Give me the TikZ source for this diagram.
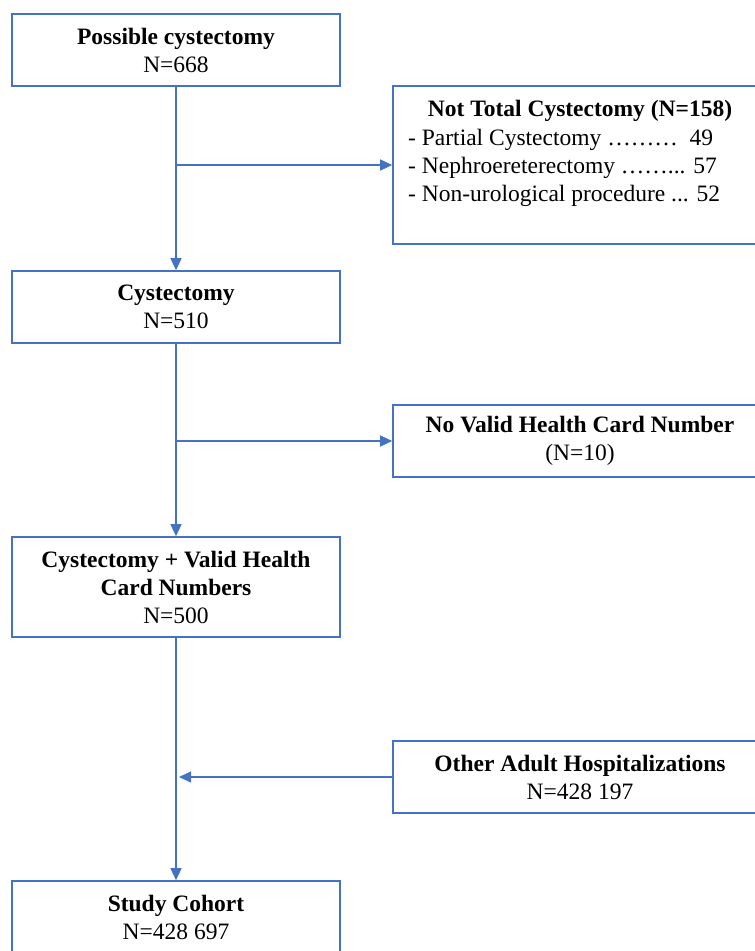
\documentclass[tikz,border=0pt]{standalone}
\usepackage{fontspec}
\setmainfont{Liberation Serif}
\usetikzlibrary{arrows.meta}
\definecolor{bl}{HTML}{4472C4}
\begin{document}
\begin{tikzpicture}[x=1pt,y=-1pt,
  box/.style={draw=bl, line width=1.6pt, minimum width=328pt, minimum height=72pt, inner sep=0pt, align=center, font=\fontsize{23.5}{28}\selectfont},
  rbox/.style={box, minimum width=374pt},
  txt/.style={inner sep=0pt, font=\fontsize{23.5}{28}\selectfont},
  conn/.style={draw=bl, line width=1.2pt},
  arr/.style={conn, -{Triangle[length=12pt,width=11pt]}}]
\useasboundingbox (0,0) rectangle (755,951);
\clip (0,0) rectangle (755,951);
\node[box] (b1) at (176,50) {\textbf{Possible cystectomy}\\N=668};
\node[rbox, minimum height=158pt] (r1) at (580,165) {};
\node[txt, anchor=base] (r1h) at (580,116) {\textbf{Not Total Cystectomy (N=158)}};
\node[txt, anchor=north west, align=left] (r1l) at (408,129) {- Partial Cystectomy ……… \ 49\\- Nephroereterectomy ……... 57\\- Non-urological procedure ... 52};
\node[box] (b2) at (176,307) {\textbf{Cystectomy}\\N=510};
\node[rbox] (r2) at (580,441) {\textbf{No Valid Health Card Number}\\(N=10)};
\node[box, minimum height=100pt] (b3) at (176,587) {\textbf{Cystectomy + Valid Health}\\\textbf{Card Numbers}\\N=500};
\node[rbox] (r3) at (580,777) {\textbf{Other Adult Hospitalizations}\\N=428 197};
\node[box] (b4) at (176,917) {\textbf{Study Cohort}\\N=428 697};
\draw[arr] (b1.south) -- (b2.north);
\draw[arr] (b1.south |- r1.west) -- (r1.west);
\draw[arr] (b2.south) -- (b3.north);
\draw[arr] (b2.south |- r2.west) -- (r2.west);
\draw[arr] (b3.south) -- (b4.north);
\draw[arr, shorten >=3pt] (r3.west) -- (b3.south |- r3.west);
\end{tikzpicture}
\end{document}
